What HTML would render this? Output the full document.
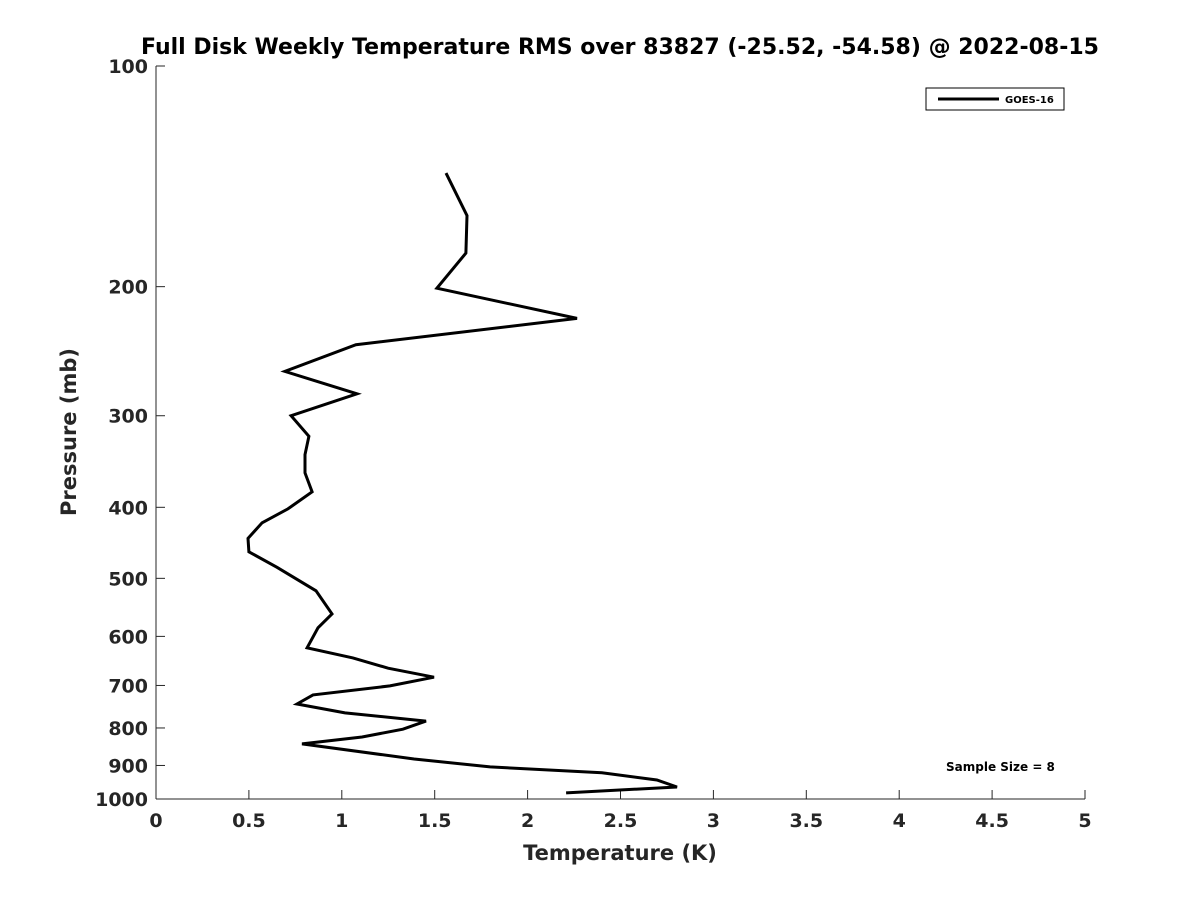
<!DOCTYPE html>
<html><head><meta charset="utf-8"><style>
html,body{margin:0;padding:0;background:#fff;}
svg{display:block;font-family:"DejaVu Sans","Liberation Sans",sans-serif;font-weight:bold;}
</style></head><body>
<svg id="chart" width="1200" height="900" viewBox="0 0 1200 900" xmlns="http://www.w3.org/2000/svg">
<rect width="1200" height="900" fill="#fff"/>
<text x="620" y="54" font-size="22" text-anchor="middle" fill="#000">Full Disk Weekly Temperature RMS over 83827 (-25.52, -54.58) @ 2022-08-15</text>
<g id="axes"></g>
<path id="series" fill="none" stroke="#000" stroke-width="3" stroke-linejoin="miter"/>
<g>
<rect x="926" y="88" width="138" height="22" fill="#fff" stroke="#000" stroke-width="1"/>
<line x1="938" y1="99" x2="999" y2="99" stroke="#000" stroke-width="3"/>
<text x="1005" y="103" font-size="10" fill="#000">GOES-16</text>
</g>
<text x="946" y="771" font-size="12" fill="#000">Sample Size = 8</text>
<text x="620" y="860" font-size="21" text-anchor="middle" fill="#262626">Temperature (K)</text>
<text transform="translate(76,432) rotate(-90)" font-size="21" text-anchor="middle" fill="#262626">Pressure (mb)</text>
</svg>
<script>
const temps=[1.561,1.674,1.668,1.512,2.266,1.076,0.694,1.082,0.727,0.823,0.802,0.802,0.840,0.710,0.571,0.495,0.50,0.651,0.861,0.947,0.872,0.813,1.06,1.249,1.496,1.259,0.845,0.759,1.017,1.453,1.329,1.109,0.786,1.389,1.798,2.40,2.696,2.804,2.207];
const pressures=[140,160,180,201,221,240,261,280,300,320,339,359,381,402,420,441,460,483,520,559,584,622,642,663,682,701,721,742,763,783,803,823,841,882,904,921,942,963,981];
const xTicks=[0,0.5,1,1.5,2,2.5,3,3.5,4,4.5,5];
const xTickLabels=["0","0.5","1","1.5","2","2.5","3","3.5","4","4.5","5"];
const yTicks=[100,200,300,400,500,600,700,800,900,1000];
const yTickLabels=["100","200","300","400","500","600","700","800","900","1000"];
const X0=156,X1=1085,Y0=66,Y1=799;
function xs(v){return X0+(v-0)/(5-0)*(X1-X0);}
function ys(p){return Y0+(Math.log10(p)-2)/(3-2)*(Y1-Y0);}
const ns="http://www.w3.org/2000/svg";
const axes=document.getElementById('axes');
function mk(t,a){const e=document.createElementNS(ns,t);for(const k in a)e.setAttribute(k,a[k]);return e;}
const xl=mk('line',{x1:X0,y1:Y1,x2:X1,y2:Y1,stroke:'#262626','stroke-width':1});


axes.appendChild(xl);
const yl=mk('line',{x1:X0,y1:Y0,x2:X0,y2:Y1,stroke:'#262626','stroke-width':1});


axes.appendChild(yl);
xTicks.forEach((v,i)=>{const x=xs(v);
 const t=mk('line',{x1:x,y1:Y1,x2:x,y2:Y1-9,stroke:'#262626','stroke-width':1});
 
 
 axes.appendChild(t);
 const l=mk('text',{x:x,y:Y1+28,'font-size':19,'text-anchor':'middle',fill:'#262626'});
 
 
 l.textContent=xTickLabels[i];axes.appendChild(l);});
yTicks.forEach((v,i)=>{const y=ys(v);
 const t=mk('line',{x1:X0,y1:y,x2:X0+9,y2:y,stroke:'#262626','stroke-width':1});
 
 
 axes.appendChild(t);
 const l=mk('text',{x:X0-8,y:y+7,'font-size':19,'text-anchor':'end',fill:'#262626'});
 
 
 l.textContent=yTickLabels[i];axes.appendChild(l);});
document.getElementById('series').setAttribute('d',temps.map((t,i)=>(i?'L':'M')+xs(t).toFixed(1)+' '+ys(pressures[i]).toFixed(1)).join(' '));
</script>
</body></html>
